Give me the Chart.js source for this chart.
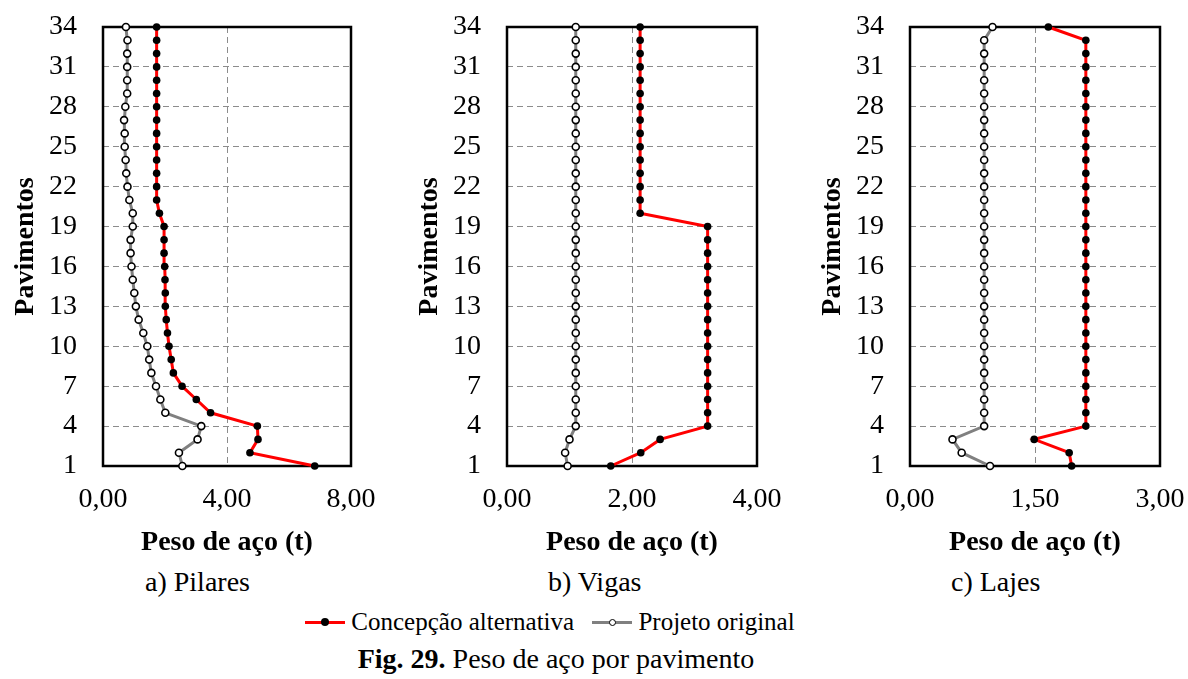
<!DOCTYPE html>
<html lang="pt">
<head>
<meta charset="utf-8">
<title>Peso de aço por pavimento</title>
<script src="https://cdn.jsdelivr.net/npm/chart.js@4/dist/chart.umd.min.js"></script>
<style>
  html, body { margin: 0; padding: 0; background: #fff; }
  body { width: 1188px; height: 679px; position: relative; overflow: hidden;
         font-family: 'Liberation Serif', 'Times New Roman', serif; color: #000; }
  canvas { position: absolute; top: 0; }
  .cap { position: absolute; top: 566px; font-size: 28px; line-height: 32px; white-space: nowrap; }
  #legend { position: absolute; top: 606px; left: 0; width: 1100px; text-align: center;
            font-size: 25px; line-height: 32px; white-space: nowrap; }
  .item { display: inline-block; margin: 0 6px; }
  .mark { display: inline-block; position: relative; width: 40px; height: 3px; vertical-align: middle;
          margin-right: 6px; top: -2px; }
  .mark i { position: absolute; left: 50%; top: 50%; border-radius: 50%; }
  #fig { position: absolute; top: 643px; left: 0; width: 1112px; text-align: center;
         font-size: 28px; line-height: 32px; white-space: nowrap; }
</style>
</head>
<body>
<canvas id="c1" width="380" height="560" style="left:0px"></canvas>
<canvas id="c2" width="380" height="560" style="left:404px"></canvas>
<canvas id="c3" width="380" height="560" style="left:807px"></canvas>

<div class="cap" style="left:145px">a) Pilares</div>
<div class="cap" style="left:548px">b) Vigas</div>
<div class="cap" style="left:951px">c) Lajes</div>

<div id="legend">
  <span class="item"><span class="mark" style="background:#ff0000"><i style="width:8px;height:8px;margin:-4px 0 0 -4px;background:#000"></i></span>Concepção alternativa</span>
  <span class="item"><span class="mark" style="background:#808080"><i style="width:5px;height:5px;margin:-3.5px 0 0 -3.5px;background:#fff;border:1px solid #000"></i></span>Projeto original</span>
</div>
<div id="fig"><b>Fig. 29.</b> Peso de aço por pavimento</div>

<script>
var pavimentos = [1, 2, 3, 4, 5, 6, 7, 8, 9, 10, 11, 12, 13, 14, 15, 16, 17,
  18, 19, 20, 21, 22, 23, 24, 25, 26, 27, 28, 29, 30, 31, 32, 33, 34];

// peso de aço (t), do 1º ao 34º pavimento
var pilaresAlt = [6.83, 4.74, 5.00, 4.98, 3.47, 3.01, 2.55, 2.27, 2.20, 2.13, 2.08, 2.04,
  2.01, 2.01, 2.00, 1.99, 1.97, 1.97, 1.97, 1.82, 1.73, 1.73, 1.73, 1.73, 1.73, 1.73,
  1.73, 1.73, 1.73, 1.73, 1.73, 1.73, 1.73, 1.73];
var pilaresOrig = [2.56, 2.45, 3.05, 3.17, 2.01, 1.85, 1.71, 1.56, 1.49, 1.43, 1.30, 1.15,
  1.06, 1.01, 0.96, 0.92, 0.89, 0.89, 0.96, 0.96, 0.85, 0.79, 0.75, 0.73, 0.70, 0.70,
  0.68, 0.72, 0.78, 0.78, 0.78, 0.78, 0.79, 0.74];

var vigasAlt = [1.66, 2.14, 2.45, 3.21, 3.21, 3.21, 3.21, 3.21, 3.21, 3.21, 3.21, 3.21,
  3.21, 3.21, 3.21, 3.21, 3.21, 3.21, 3.21, 2.13, 2.13, 2.13, 2.13, 2.13, 2.13, 2.13,
  2.13, 2.13, 2.13, 2.13, 2.13, 2.13, 2.13, 2.13];
var vigasOrig = [0.97, 0.93, 1.00, 1.10, 1.10, 1.10, 1.10, 1.10, 1.10, 1.10, 1.10, 1.10,
  1.10, 1.10, 1.10, 1.10, 1.10, 1.10, 1.10, 1.10, 1.10, 1.10, 1.10, 1.10, 1.10, 1.10,
  1.10, 1.10, 1.10, 1.10, 1.10, 1.10, 1.10, 1.10];

var lajesAlt = [1.94, 1.91, 1.49, 2.11, 2.11, 2.11, 2.11, 2.11, 2.11, 2.11, 2.11, 2.11,
  2.11, 2.11, 2.11, 2.11, 2.11, 2.11, 2.11, 2.11, 2.11, 2.11, 2.11, 2.11, 2.11, 2.11,
  2.11, 2.11, 2.11, 2.11, 2.11, 2.11, 2.11, 1.66];
var lajesOrig = [0.96, 0.62, 0.51, 0.89, 0.89, 0.89, 0.89, 0.89, 0.89, 0.89, 0.89, 0.89,
  0.89, 0.89, 0.89, 0.89, 0.89, 0.89, 0.89, 0.89, 0.89, 0.89, 0.89, 0.89, 0.89, 0.89,
  0.89, 0.89, 0.89, 0.89, 0.89, 0.89, 0.89, 0.99];

var xMax = [8, 4, 3];
var xStep = [4, 2, 1.5];

var serif = "'Liberation Serif', 'Times New Roman', serif";

function pares(valores) {
  return valores.map(function(v, i) {
    return { x: v, y: pavimentos[i] };
  });
}

// moldura preta em volta da área do gráfico
var moldura = {
  id: 'moldura',
  beforeDatasetsDraw: function(chart) {
    var a = chart.chartArea, ctx = chart.ctx;
    ctx.save();
    ctx.strokeStyle = '#000';
    ctx.lineWidth = 2.5;
    ctx.strokeRect(a.left, a.top, a.right - a.left, a.bottom - a.top);
    ctx.restore();
  }
};

function painel(id, alt, orig, max, step, plotW) {
  var grade = function(ctx) {
    var v = ctx.tick && ctx.tick.value;
    return (v === ctx.scale.min || v === ctx.scale.max) ? 'rgba(0,0,0,0)' : '#8c8c8c';
  };
  new Chart(document.getElementById(id), {
    type: 'scatter',
    data: {
      datasets: [{
        label: 'Concepção alternativa',
        data: pares(alt),
        showLine: true,
        borderColor: '#ff0000',
        borderWidth: 3,
        pointRadius: 3.8,
        pointBackgroundColor: '#000',
        pointBorderColor: '#000',
        pointBorderWidth: 0,
        clip: false
      }, {
        label: 'Projeto original',
        data: pares(orig),
        showLine: true,
        borderColor: '#808080',
        borderWidth: 3,
        pointRadius: 3.5,
        pointBackgroundColor: '#fff',
        pointBorderColor: '#000',
        pointBorderWidth: 1.6,
        clip: false
      }]
    },
    options: {
      responsive: false,
      animation: false,
      layout: { padding: { left: 0, top: 27, right: 380 - 103 - plotW, bottom: 0 } },
      plugins: { legend: { display: false }, tooltip: { enabled: false } },
      scales: {
        x: {
          type: 'linear',
          min: 0,
          max: max,
          afterFit: function(s) {
            s.height = 94;
            s.paddingLeft = 0;
            s.paddingRight = 0;
          },
          ticks: {
            stepSize: step,
            color: '#000',
            padding: 17,
            font: { family: serif, size: 28 },
            callback: function(v) { return v.toFixed(2).replace('.', ','); }
          },
          grid: { color: grade, lineWidth: 1, drawTicks: false },
          border: { display: false, dash: [6, 4] },
          title: {
            display: true,
            text: 'Peso de aço (t)',
            color: '#000',
            padding: { top: 0, bottom: 0 },
            font: { family: serif, size: 28, weight: 'bold' }
          }
        },
        y: {
          type: 'linear',
          min: 1,
          max: 34,
          afterFit: function(s) {
            s.width = 103;
            s.paddingTop = 0;
            s.paddingBottom = 0;
          },
          ticks: {
            stepSize: 3,
            autoSkip: false,
            color: '#000',
            padding: 26,
            font: { family: serif, size: 28 }
          },
          grid: { color: grade, lineWidth: 1, drawTicks: false },
          border: { display: false, dash: [6, 4] },
          title: {
            display: true,
            text: 'Pavimentos',
            color: '#000',
            padding: { top: 9, bottom: 0 },
            font: { family: serif, size: 28, weight: 'bold' }
          }
        }
      }
    },
    plugins: [moldura]
  });
}

painel('c1', pilaresAlt, pilaresOrig, xMax[0], xStep[0], 248);
painel('c2', vigasAlt, vigasOrig, xMax[1], xStep[1], 250);
painel('c3', lajesAlt, lajesOrig, xMax[2], xStep[2], 250);
</script>
</body>
</html>
